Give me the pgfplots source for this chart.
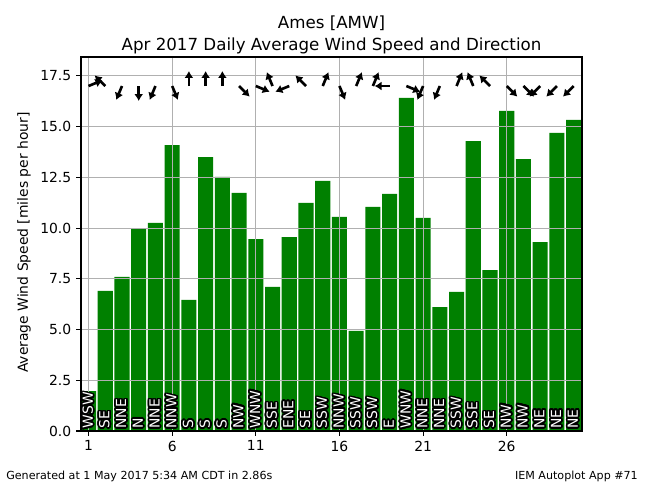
\documentclass[border=0pt]{standalone}
\usepackage{fontspec}
\setmainfont{DejaVu Sans}
\usepackage{pgfplots}
\pgfplotsset{compat=1.18}
\usepackage{pgfplotstable}
\usetikzlibrary{arrows.meta}
\usepackage{contour}
\contourlength{1.2pt}
\contournumber{24}

\definecolor{mplgreen}{HTML}{008000}
\definecolor{gridgray}{HTML}{B0B0B0}

% day, mean speed, direction, arrow vector (u,v), arrow tail height, label base
\pgfplotstableread{
day speed dir u      v      ay base
1   1.97  WSW  0.830  0.283 17 0
2   6.90  SE  -0.635  0.523 17 0
3   7.59  NNE -0.344 -0.683 17 0
4   9.96  N    0.000 -0.739 17 0
5   10.25 NNE -0.344 -0.683 17 0
6   14.09 NNW  0.344 -0.683 17 0
7   6.46  S    0.000  0.739 17 0
8   13.50 S    0.000  0.739 17 0
9   12.52 S    0.000  0.739 17 0
10  11.73 NW   0.635 -0.523 17 0
11  9.46  WNW  0.830 -0.283 17 0
12  7.10  SSE -0.344  0.683 17 0
13  9.56  ENE -0.830 -0.283 17 0
14  11.24 SE  -0.635  0.523 17 0
15  12.32 SSW  0.344  0.683 17 0
16  10.55 NNW  0.344 -0.683 17 0
17  4.93  SSW  0.344  0.683 17 0
18  11.04 SSW  0.344  0.683 17 0
19  11.68 E   -0.898  0.000 17 0
20  16.41 WNW  0.830 -0.283 17 0
21  10.50 NNE -0.344 -0.683 17 0
22  6.11  NNE -0.344 -0.683 17 0
23  6.85  SSW  0.344  0.683 17 0
24  14.29 SSE -0.344  0.683 17 0
25  7.93  SE  -0.635  0.523 17 0
26  15.77 NW   0.635 -0.523 17 0
27  13.40 NW   0.635 -0.523 17 0
28  9.31  NE  -0.635 -0.523 17 0
29  14.69 NE  -0.635 -0.523 17 0
30  15.33 NE  -0.635 -0.523 17 0
}\winds

\begin{document}
\begin{tikzpicture}
\path (0,0) rectangle (465.12pt,348.48pt);
\begin{axis}[
    at={(58.32pt,38.16pt)}, anchor=south west,
    scale only axis,
    width=360.72pt, height=269.28pt,
    set layers,
    xmin=0.55, xmax=30.5,
    ymin=0, ymax=18.43,
    xtick={1,6,...,26},
    ytick={0,2.5,...,17.5},
    yticklabel style={/pgf/number format/.cd, fixed, fixed zerofill, precision=1},
    /pgf/number format/assume math mode=true,
    grid=major,
    grid style={gridgray, line width=0.8pt},
    tick align=outside, tick pos=left,
    major tick length=3.5pt,
    tick style={black, line width=0.8pt},
    axis line style={line width=0.8pt},
    ticklabel style={font=\fontsize{10}{12}\selectfont},
    ylabel={Average Wind Speed [miles per hour]},
    ylabel style={font=\fontsize{10}{12}\selectfont, xshift=1pt},
    title={Ames [AMW]\\Apr 2017 Daily Average Wind Speed and Direction},
    title style={align=center, font=\fontsize{12}{15.8}\selectfont, yshift=-7.2pt},
]
    \addplot[ybar, bar width=0.9, fill=mplgreen, draw=none, on layer=axis background]
        table[x=day, y=speed] {\winds};
    \addplot[draw=none, mark=none, point meta=explicit symbolic,
        nodes near coords={\contour{black}{\textcolor{white}{\pgfplotspointmeta}}},
        nodes near coords style={rotate=90, anchor=west, inner sep=1.6pt,
            font=\fontsize{10}{12}\selectfont}]
        table[x=day, y=base, meta=dir] {\winds};
    \addplot[black, line width=1.9pt, -{Latex[length=5pt, width=6.5pt]},
        quiver={u=\thisrow{u}, v=\thisrow{v}}]
        table[x=day, y=ay] {\winds};
\end{axis}
\node[anchor=west, inner sep=0pt, font=\fontsize{8}{9.6}\selectfont]
    at (4.32pt,5.76pt) {Generated at 1 May 2017 5:34 AM CDT in 2.86s};
\node[anchor=east, inner sep=0pt, font=\fontsize{8}{9.6}\selectfont]
    at (459.4pt,5.76pt) {IEM Autoplot App \#71};
\end{tikzpicture}
\end{document}
